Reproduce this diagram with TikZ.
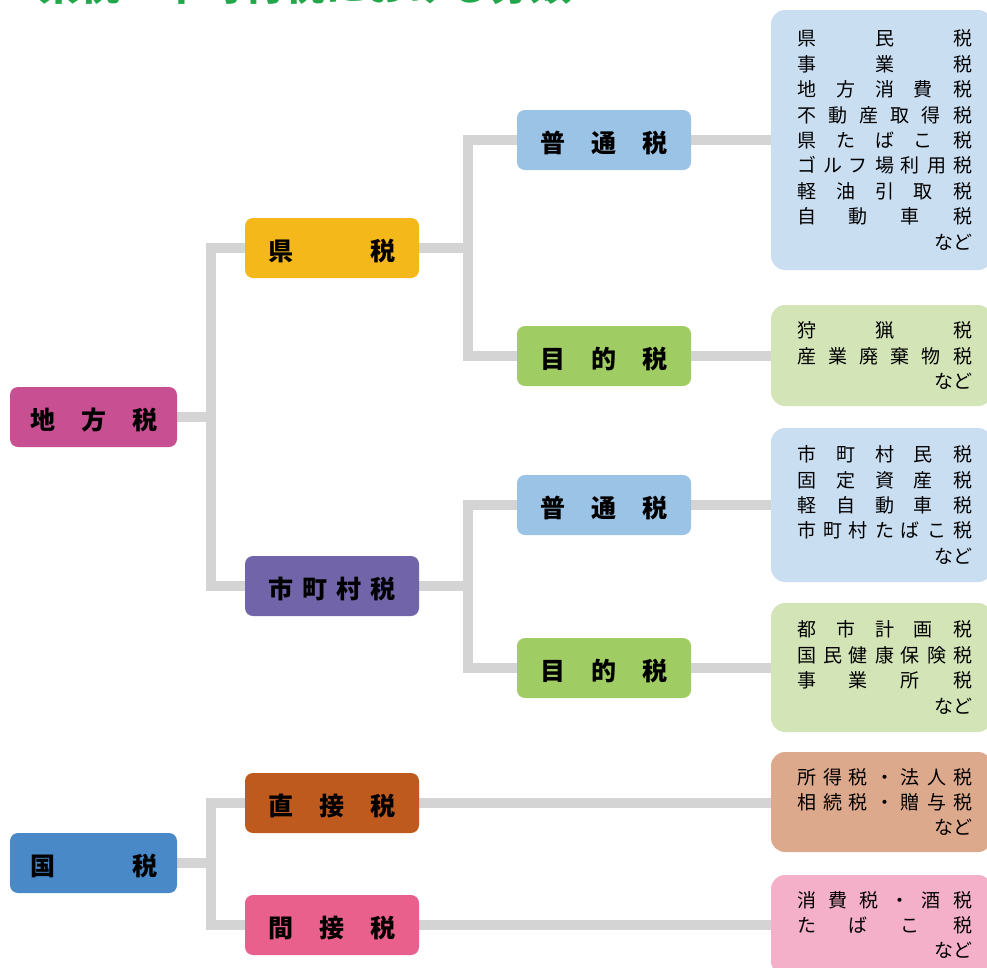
\documentclass[tikz,border=0pt]{standalone}
\usepackage{fontspec}
\newfontfamily\jp{Noto Sans CJK JP}
\usetikzlibrary{backgrounds}
\definecolor{cChiho}{HTML}{C94F93}
\definecolor{cKoku}{HTML}{4A89C8}
\definecolor{cKen}{HTML}{F4B81A}
\definecolor{cShi}{HTML}{7264A9}
\definecolor{cChoku}{HTML}{BF5A1F}
\definecolor{cKan}{HTML}{E8608B}
\definecolor{cFutsu}{HTML}{9BC3E6}
\definecolor{cMoku}{HTML}{A0CD63}
\definecolor{dBlue}{HTML}{CADEF1}
\definecolor{dGreen}{HTML}{D3E4B7}
\definecolor{dTan}{HTML}{DDA98C}
\definecolor{dPink}{HTML}{F4B0C8}
\definecolor{cConn}{HTML}{D4D4D4}
\definecolor{cTitle}{HTML}{22A84A}
\newcommand\lab[1]{\hbox to 127pt{#1}}
\newcommand\dl[1]{\hbox to 175pt{#1}}
\newcommand\dbox[1]{\hbox{\kern6pt\vbox{\baselineskip=25.4pt #1}}}
\tikzset{
  labbox/.style={rounded corners=8pt, minimum width=174pt, minimum height=60pt, inner sep=0pt,
    text height=24pt, text depth=0pt,
    font=\jp\bfseries\fontsize{25}{25}\selectfont, text=black},
  detbox/.style={rounded corners=14pt, minimum width=221pt, inner sep=0pt,
    font=\jp\fontsize{19}{25.4}\selectfont, text=black},
  conn/.style={draw=cConn, line width=10pt},
}
\begin{document}
\begin{tikzpicture}[x=1pt,y=-1pt]
\clip (0,0) rectangle (987,967);
% title (cut off at top, as in the reference)
\node[anchor=base west, inner sep=0pt, text=cTitle, font=\jp\bfseries\fontsize{41}{41}\selectfont] (title) at (38,0) {県税・市町村税における分類};
% level 1
\node[labbox, fill=cChiho, minimum width=167pt] (chiho) at (93.5,417) {\lab{地\hfill 方\hfill 税}};
\node[labbox, fill=cKoku, minimum width=167pt] (koku) at (93.5,863) {\lab{国\hfill 税}};
% level 2
\node[labbox, fill=cKen] (ken) at (332,248) {\lab{県\hfill 税}};
\node[labbox, fill=cShi] (shi) at (332,586) {\lab{市\hfill 町\hfill 村\hfill 税}};
\node[labbox, fill=cChoku] (choku) at (332,803) {\lab{直\hfill 接\hfill 税}};
\node[labbox, fill=cKan] (kan) at (332,925) {\lab{間\hfill 接\hfill 税}};
% level 3
\node[labbox, fill=cFutsu] (f1) at (604,140) {\lab{普\hfill 通\hfill 税}};
\node[labbox, fill=cMoku] (m1) at (604,356) {\lab{目\hfill 的\hfill 税}};
\node[labbox, fill=cFutsu] (f2) at (604,505) {\lab{普\hfill 通\hfill 税}};
\node[labbox, fill=cMoku] (m2) at (604,668) {\lab{目\hfill 的\hfill 税}};
% detail boxes
\node[detbox, fill=dBlue, minimum height=260pt] (d1) at (881.5,140) {\dbox{%
\dl{県\hfill 民\hfill 税}
\dl{事\hfill 業\hfill 税}
\dl{地\hfill 方\hfill 消\hfill 費\hfill 税}
\dl{不\hfill 動\hfill 産\hfill 取\hfill 得\hfill 税}
\dl{県\hfill た\hfill ば\hfill こ\hfill 税}
\dl{ゴ\hfill ル\hfill フ\hfill 場\hfill 利\hfill 用\hfill 税}
\dl{軽\hfill 油\hfill 引\hfill 取\hfill 税}
\dl{自\hfill 動\hfill 車\hfill 税}
\dl{\hfill など}}};
\node[detbox, fill=dGreen, minimum height=101pt] (d2) at (881.5,355.5) {\dbox{%
\dl{狩\hfill 猟\hfill 税}
\dl{産\hfill 業\hfill 廃\hfill 棄\hfill 物\hfill 税}
\dl{\hfill など}}};
\node[detbox, fill=dBlue, minimum height=154pt] (d3) at (881.5,505) {\dbox{%
\dl{市\hfill 町\hfill 村\hfill 民\hfill 税}
\dl{固\hfill 定\hfill 資\hfill 産\hfill 税}
\dl{軽\hfill 自\hfill 動\hfill 車\hfill 税}
\dl{市\hfill 町\hfill 村\hfill た\hfill ば\hfill こ\hfill 税}
\dl{\hfill など}}};
\node[detbox, fill=dGreen, minimum height=129pt] (d4) at (881.5,667.5) {\dbox{%
\dl{都\hfill 市\hfill 計\hfill 画\hfill 税}
\dl{国\hfill 民\hfill 健\hfill 康\hfill 保\hfill 険\hfill 税}
\dl{事\hfill 業\hfill 所\hfill 税}
\dl{\hfill など}}};
\node[detbox, fill=dTan, minimum height=100pt] (d5) at (881.5,802) {\dbox{%
\dl{所\hfill 得\hfill 税\hfill ・\hfill 法\hfill 人\hfill 税}
\dl{相\hfill 続\hfill 税\hfill ・\hfill 贈\hfill 与\hfill 税}
\dl{\hfill など}}};
\node[detbox, fill=dPink, minimum height=100pt] (d6) at (881.5,925) {\dbox{%
\dl{消\hfill 費\hfill 税\hfill ・\hfill 酒\hfill 税}
\dl{た\hfill ば\hfill こ\hfill 税}
\dl{\hfill など}}};
% connectors
\coordinate (j1) at (211,417);
\coordinate (j2) at (468,248);
\coordinate (j3) at (468,586);
\coordinate (j4) at (211,863);
\begin{scope}[on background layer]
\draw[conn] (chiho.east) -- (j1);
\draw[conn] (ken.west) -| (j1);
\draw[conn] (shi.west) -| (j1);
\draw[conn] (ken.east) -- (j2);
\draw[conn] (f1.west) -| (j2);
\draw[conn] (m1.west) -| (j2);
\draw[conn] (shi.east) -- (j3);
\draw[conn] (f2.west) -| (j3);
\draw[conn] (m2.west) -| (j3);
\draw[conn] (koku.east) -- (j4);
\draw[conn] (choku.west) -| (j4);
\draw[conn] (kan.west) -| (j4);
\draw[conn] (f1.east) -- (d1.west |- f1.east);
\draw[conn] (m1.east) -- (d2.west |- m1.east);
\draw[conn] (f2.east) -- (d3.west |- f2.east);
\draw[conn] (m2.east) -- (d4.west |- m2.east);
\draw[conn] (choku.east) -- (d5.west |- choku.east);
\draw[conn] (kan.east) -- (d6.west |- kan.east);
\end{scope}
\end{tikzpicture}
\end{document}
